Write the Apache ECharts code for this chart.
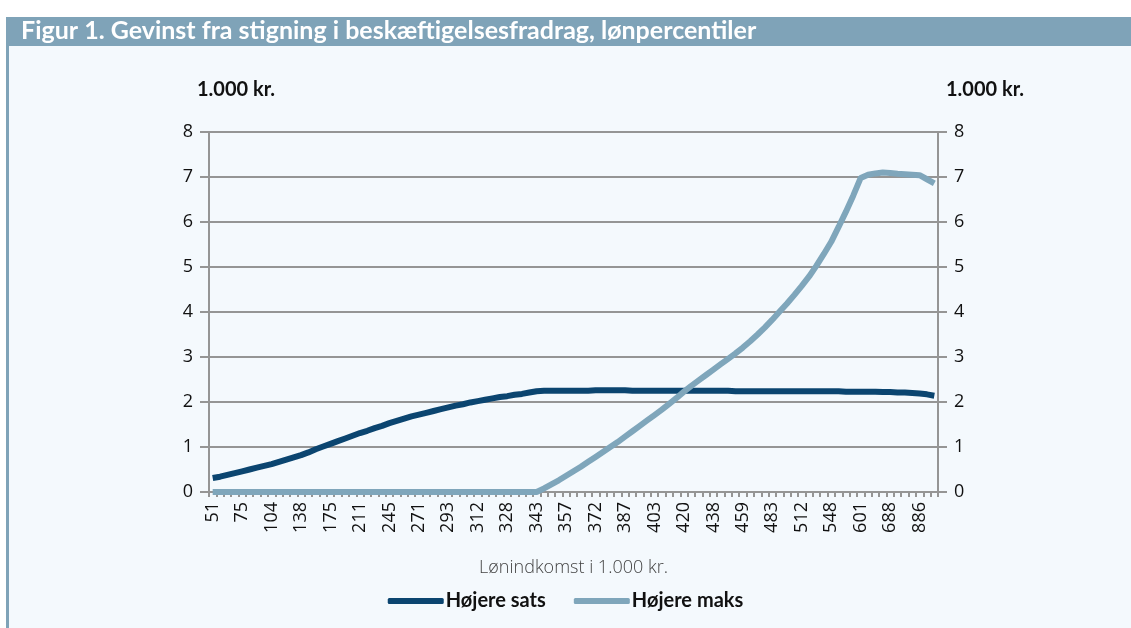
<!DOCTYPE html>
<html>
<head>
<meta charset="utf-8">
<script src="https://cdn.jsdelivr.net/npm/echarts@6/dist/echarts.min.js"></script>
<style>
	html, body { margin: 0; padding: 0; background: #ffffff; }
	#chart { width: 1131px; height: 628px; }
</style>
</head>
<body>
<div id="chart"></div>
<script>
// lønpercentiler 1..99
var percentiles = [];
for (var p = 1; p <= 99; p++) percentiles.push(p);

// viste labels (lønindkomst i 1.000 kr.) for hver 4. percentil
var incomeLabels = ['51', '75', '104', '138', '175', '211', '245', '271', '293', '312', '328', '343', '357',
	'372', '387', '403', '420', '438', '459', '483', '512', '548', '601', '688', '886'];

var yTicks = [0, 1, 2, 3, 4, 5, 6, 7, 8];

// Højere sats
var hojereSats = [
	0.31, 0.34, 0.38, 0.42, 0.46, 0.50, 0.54, 0.58, 0.62, 0.67,
	0.72, 0.77, 0.82, 0.88, 0.95, 1.01, 1.07, 1.13, 1.19, 1.25,
	1.31, 1.36, 1.42, 1.47, 1.53, 1.58, 1.63, 1.68, 1.72, 1.76,
	1.80, 1.84, 1.88, 1.92, 1.95, 1.99, 2.02, 2.05, 2.08, 2.11,
	2.13, 2.16, 2.18, 2.21, 2.24, 2.25, 2.25, 2.25, 2.25, 2.25,
	2.25, 2.25, 2.26, 2.26, 2.26, 2.26, 2.26, 2.25, 2.25, 2.25,
	2.25, 2.25, 2.25, 2.25, 2.25, 2.25, 2.25, 2.25, 2.25, 2.25,
	2.25, 2.24, 2.24, 2.24, 2.24, 2.24, 2.24, 2.24, 2.24, 2.24,
	2.24, 2.24, 2.24, 2.24, 2.24, 2.24, 2.23, 2.23, 2.23, 2.23,
	2.23, 2.22, 2.22, 2.21, 2.21, 2.20, 2.19, 2.17, 2.14
];

// Højere maks
var hojereMaks = [
	0, 0, 0, 0, 0, 0, 0, 0, 0, 0,
	0, 0, 0, 0, 0, 0, 0, 0, 0, 0,
	0, 0, 0, 0, 0, 0, 0, 0, 0, 0,
	0, 0, 0, 0, 0, 0, 0, 0, 0, 0,
	0, 0, 0, 0, 0, 0.08, 0.17, 0.26, 0.36, 0.46,
	0.56, 0.67, 0.78, 0.89, 1.00, 1.11, 1.23, 1.35, 1.47, 1.59,
	1.71, 1.83, 1.96, 2.09, 2.23, 2.36, 2.48, 2.60, 2.72, 2.84,
	2.96, 3.08, 3.21, 3.35, 3.50, 3.66, 3.83, 4.01, 4.19, 4.38,
	4.58, 4.79, 5.03, 5.29, 5.56, 5.89, 6.23, 6.59, 6.98, 7.05,
	7.08, 7.10, 7.09, 7.07, 7.06, 7.05, 7.04, 6.95, 6.86
];

var myChart = echarts.init(document.getElementById('chart'));

var gridColor = '#959595';
var labelFont = '"Open Sans", "Noto Sans", sans-serif';
var boldFont = 'Lato, "Open Sans", sans-serif';

var option = {
	backgroundColor: '#ffffff',
	animation: false,
	color: ['#0b4570', '#7fa6bb'],
	graphic: [
		// baggrund
		{ type: 'rect', left: 7, top: 17, shape: { width: 1124, height: 611 }, style: { fill: '#f4f9fd' }, z: -10 },
		// venstre kant
		{ type: 'rect', left: 6, top: 17, shape: { width: 3, height: 611 }, style: { fill: '#7fa3b8' }, z: -5 },
		// overskriftsbjælke
		{ type: 'rect', left: 6, top: 17, shape: { width: 1125, height: 29 }, style: { fill: '#7fa3b8' }, z: -5 },
		{
			type: 'text', x: 21, y: 31,
			style: {
				text: 'Figur 1. Gevinst fra stigning i beskæftigelsesfradrag, lønpercentiler',
				fill: '#ffffff',
				verticalAlign: 'middle',
				font: 'bold 25px Lato, sans-serif'
			}
		},
		// aksetitler
		{ type: 'text', x: 236, y: 90, style: { text: '1.000 kr.', fill: '#111', align: 'center', verticalAlign: 'middle', font: 'bold 20px Lato, sans-serif' } },
		{ type: 'text', x: 985, y: 90, style: { text: '1.000 kr.', fill: '#111', align: 'center', verticalAlign: 'middle', font: 'bold 20px Lato, sans-serif' } }
	],
	grid: {
		left: 209,
		right: 193,
		top: 132,
		bottom: 136
	},
	legend: {
		bottom: 12,
		left: 'center',
		itemWidth: 56,
		itemHeight: 6,
		itemGap: 28,
		icon: 'roundRect',
		textStyle: { fontFamily: boldFont, fontWeight: 'bold', fontSize: 20, color: '#111', padding: [0, 0, 0, -3] },
		data: ['Højere sats', 'Højere maks']
	},
	xAxis: {
		type: 'category',
		data: percentiles,
		boundaryGap: true,
		name: 'Lønindkomst i 1.000 kr.',
		nameLocation: 'middle',
		nameGap: 67,
		nameTextStyle: { fontFamily: labelFont, fontSize: 18, color: '#444', fontWeight: 300 },
		axisLine: { lineStyle: { color: gridColor, width: 2 } },
		axisTick: { show: true, interval: 0, length: 5, lineStyle: { color: gridColor, width: 2 } },
		axisLabel: {
			interval: function (index) { return index % 4 === 0; },
			rotate: 90,
			margin: 10,
			fontFamily: labelFont,
			fontSize: 18,
			color: '#111',
			formatter: function (val, index) {
				return index % 4 === 0 ? incomeLabels[index / 4] : '';
			}
		},
		splitLine: { show: false }
	},
	yAxis: [{
		type: 'value',
		min: 0,
		max: 8,
		interval: 1,
		axisLine: { show: true, lineStyle: { color: gridColor, width: 2 } },
		axisTick: { show: true, length: 9, lineStyle: { color: gridColor, width: 2 } },
		axisLabel: { margin: 16, fontFamily: labelFont, fontSize: 18, color: '#111',
			formatter: function (v) { return yTicks.indexOf(v) > -1 ? String(v) : ''; } },
		splitLine: { show: true, lineStyle: { color: gridColor, width: 2 } }
	}, {
		type: 'value',
		min: 0,
		max: 8,
		interval: 1,
		position: 'right',
		axisLine: { show: true, lineStyle: { color: gridColor, width: 2 } },
		axisTick: { show: true, length: 9, lineStyle: { color: gridColor, width: 2 } },
		axisLabel: { margin: 16, fontFamily: labelFont, fontSize: 18, color: '#111',
			formatter: function (v) { return yTicks.indexOf(v) > -1 ? String(v) : ''; } },
		splitLine: { show: false }
	}],
	series: [{
		name: 'Højere sats',
		type: 'line',
		data: hojereSats,
		symbol: 'none',
		lineStyle: { width: 6, color: '#0b4570' },
		z: 3
	}, {
		name: 'Højere maks',
		type: 'line',
		data: hojereMaks,
		symbol: 'none',
		lineStyle: { width: 6, color: '#7fa6bb' },
		z: 4
	}]
};

myChart.setOption(option);
</script>
</body>
</html>
